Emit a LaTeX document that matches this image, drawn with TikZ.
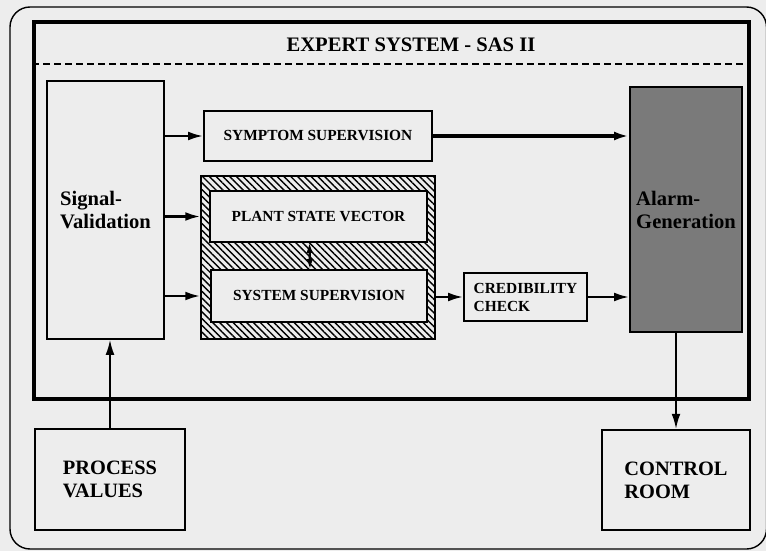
\documentclass[tikz,border=0pt]{standalone}
\usepackage{fontspec}
\setmainfont{Liberation Serif}
\usetikzlibrary{positioning,arrows.meta,patterns.meta}
\colorlet{paper}{black!7}

\begin{document}
\begin{tikzpicture}[
  x=0.5pt, y=-0.5pt,
  font=\bfseries\fontsize{7.7}{9}\selectfont,
  box/.style={draw, line width=0.85pt, inner sep=2pt, fill=paper},
  endbox/.style={box, line width=1.2pt, align=left,
                 font=\bfseries\fontsize{10.2}{11.5}\selectfont},
  bigtext/.style={align=left, font=\bfseries\fontsize{10.3}{11.5}\selectfont},
  frameline/.style={draw, line width=2pt},
  hatched/.style={draw, line width=0.85pt,
                  pattern={Lines[angle=-45,distance=2.4pt,line width=0.7pt]}},
  arrow/.style={-{Latex[length=7.5pt,width=4.4pt]}, line width=1.2pt}
]
\useasboundingbox (0,0) rectangle (766,551);
\fill[paper] (0,0) rectangle (766,551);
\draw[line width=0.7pt, rounded corners=10pt] (10,7) rectangle (766.5,549);

\node[frameline, minimum width=357.5pt, minimum height=188.5pt] (esys) at (391.5,210.5) {};
\node[bigtext] (title) at (411,45) {EXPERT SYSTEM - SAS II};
\draw[line width=0.8pt, dash pattern=on 3.5pt off 2pt] (esys.west |- 0,64) -- (esys.east |- 0,64);

\node[box, bigtext, minimum width=58.5pt, minimum height=129pt] (sigval) at (105.5,210) {Signal-\\Validation};
\node[box, minimum width=114pt, minimum height=25pt] (symp) at (318,136) {SYMPTOM SUPERVISION};
\node[hatched, minimum width=117pt, minimum height=81.5pt] (hatch) at (318,257.5) {};
\node[box, minimum width=108.5pt, minimum height=25.5pt] (psv) at (318.5,216.5) {PLANT STATE VECTOR};
\node[box, minimum width=108pt, minimum height=26pt] (syssup) at (319,296) {SYSTEM SUPERVISION};
\node[box, align=left, minimum width=61.5pt, minimum height=24pt] (cred) at (525.5,297) {CREDIBILITY\\CHECK};
\node[box, bigtext, fill=black!52, minimum width=56pt, minimum height=122.5pt] (alarm) at (686,209.5) {Alarm-\\Generation};
\node[endbox, minimum width=75pt, minimum height=50.5pt] (pv) at (110,479.5) {PROCESS\\VALUES};
\node[endbox, minimum width=74pt, minimum height=50pt] (cr) at (676,480) {CONTROL\\ROOM};

\draw[arrow] (sigval.east |- symp.west) -- (symp.west);
\draw[arrow] (sigval.east |- psv.west) -- (hatch.west |- psv.west);
\draw[arrow] (sigval.east |- syssup.west) -- (hatch.west |- syssup.west);
\draw[arrow, line width=1.7pt] (symp.east) -- (alarm.west |- symp.east);
\draw[arrow] (hatch.east |- cred.west) -- (cred.west);
\draw[arrow] (cred.east) -- (alarm.west |- cred.east);
\draw[{Latex[length=5pt,width=3.4pt]}-{Latex[length=5pt,width=3.4pt]}, line width=1.2pt]
  ([xshift=-4.5pt]psv.south) -- ([xshift=-4.5pt]syssup.north);
\draw[arrow, line width=0.8pt] (pv.north) -- (pv.north |- sigval.south);
\draw[arrow, line width=0.8pt] (alarm.south -| cr.north) -- (cr.north);
\end{tikzpicture}
\end{document}
